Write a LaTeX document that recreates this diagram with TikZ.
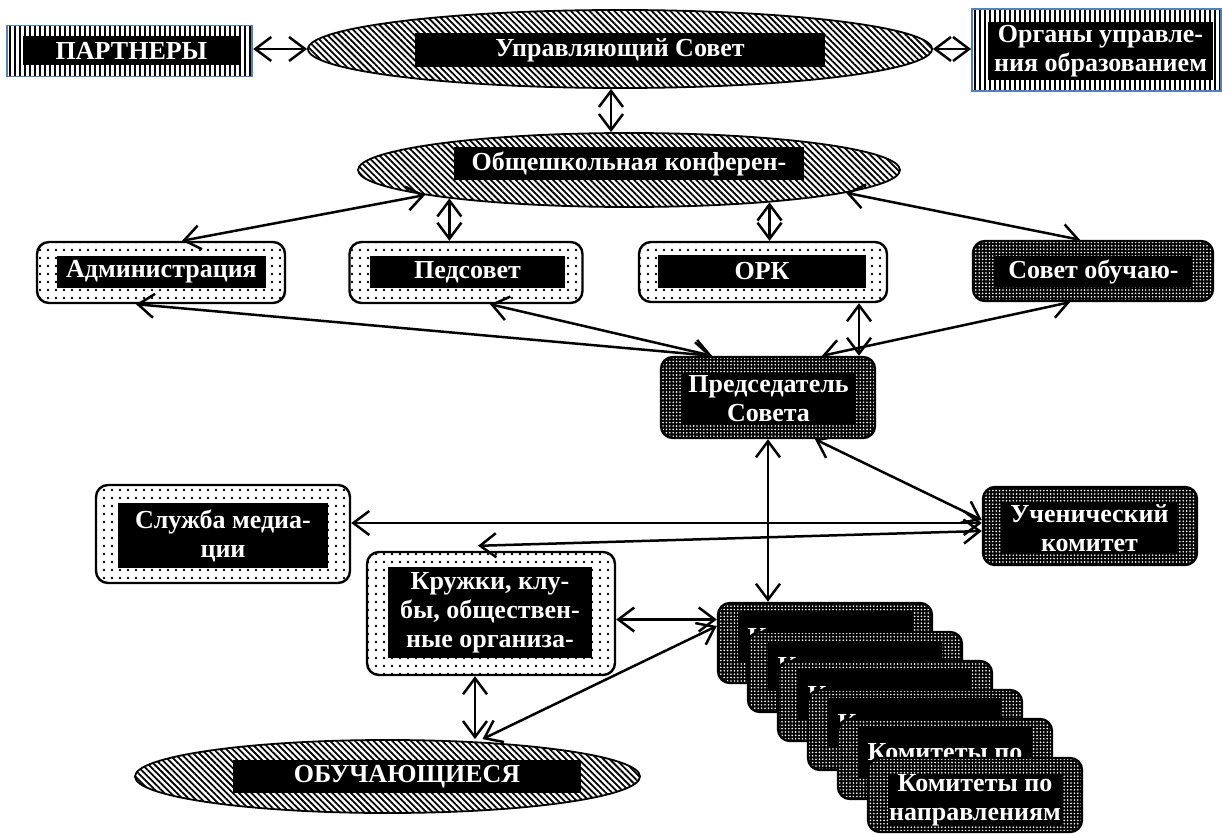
\documentclass[tikz,border=0pt]{standalone}
\usepackage{fontspec}
\setmainfont{Liberation Serif}
\usetikzlibrary{shapes.geometric}
\usetikzlibrary{patterns.meta}
\usetikzlibrary{arrows.meta}
\pgfdeclarelayer{edgelayer}
\pgfdeclarelayer{nodelayer}
\pgfsetlayers{edgelayer,nodelayer,main}
\definecolor{frameblue}{RGB}{79,129,189}
\tikzstyle{oval}=[ellipse,draw=black,line width=1.8pt,inner sep=0pt,pattern={Lines[angle=-45,distance=4.4pt,line width=1.8pt]}]
\tikzstyle{stripes}=[rectangle,draw=frameblue,line width=1.8pt,inner sep=0pt,pattern={Lines[angle=90,distance=5pt,line width=2.4pt]}]
\tikzstyle{light}=[rectangle,rounded corners=12pt,draw=black,line width=2.4pt,inner sep=0pt,pattern={Dots[distance=8pt,radius=1.3pt]}]
\tikzstyle{dark}=[rectangle,rounded corners=12pt,draw=black,line width=2.4pt,inner sep=0pt,preaction={fill=black},pattern={Dots[distance=3.4pt,radius=0.9pt]},pattern color=white]
\tikzstyle{blacktext}=[rectangle,fill=black,text=white,inner sep=0pt,align=center,font=\bfseries\fontsize{26}{29}\selectfont]
\tikzstyle{link}=[<->,>={Straight Barb[length=16pt,width=24pt]},line width=2.5pt,draw=black]

\begin{document}
\begin{tikzpicture}[x=1pt,y=-1pt]
	\useasboundingbox (0,0) rectangle (1222,834);
	\begin{pgfonlayer}{nodelayer}
		\node [style=stripes, minimum width=245pt, minimum height=51pt] (0) at (129.5, 51) {};
		\node [style=blacktext, minimum width=217pt, minimum height=29pt] (l0) at (131.5, 50.5) {ПАРТНЕРЫ};
		\node [style=oval, minimum width=624pt, minimum height=78pt] (1) at (620, 49) {};
		\node [style=blacktext, minimum width=410pt, minimum height=34pt] (l1) at (620, 50) {Управляющий Совет};
		\node [style=stripes, minimum width=249pt, minimum height=82pt] (2) at (1096.5, 50) {};
		\node [style=blacktext, minimum width=225pt, minimum height=58pt] (l2) at (1100.5, 51) {Органы управле-\\ния образованием};
		\node [style=oval, minimum width=542pt, minimum height=74pt] (3) at (629, 170) {};
		\node [style=blacktext, minimum width=350pt, minimum height=33pt] (l3) at (629, 164) {Общешкольная конферен-};
		\node [style=light, minimum width=248pt, minimum height=61pt] (4) at (161, 272.5) {};
		\node [style=blacktext, minimum width=209pt, minimum height=32pt] (l4) at (161.5, 272) {Администрация};
		\node [style=light, minimum width=233pt, minimum height=61pt] (5) at (466, 272.5) {};
		\node [style=blacktext, minimum width=195pt, minimum height=32pt] (l5) at (467.5, 272) {Педсовет};
		\node [style=light, minimum width=248pt, minimum height=60pt] (6) at (763, 272) {};
		\node [style=blacktext, minimum width=208pt, minimum height=33pt] (l6) at (762, 271.5) {ОРК};
		\node [style=dark, minimum width=240pt, minimum height=60pt] (7) at (1093, 271) {};
		\node [style=blacktext, minimum width=197pt, minimum height=31pt] (l7) at (1093.5, 271.5) {Совет обучаю-};
		\node [style=dark, minimum width=214pt, minimum height=81pt] (8) at (768, 397.5) {};
		\node [style=blacktext, minimum width=173pt, minimum height=51pt] (l8) at (768.5, 399) {Председатель\\Совета};
		\node [style=dark, minimum width=214pt, minimum height=78pt] (9) at (1090, 526) {};
		\node [style=blacktext, minimum width=175pt, minimum height=50pt] (l9) at (1089.5, 528) {Ученический\\комитет};
		\node [style=light, minimum width=254pt, minimum height=98pt] (10) at (223, 534) {};
		\node [style=blacktext, minimum width=210pt, minimum height=65pt] (l10) at (223, 535.5) {Служба медиа-\\ции};
		\node [style=light, minimum width=248pt, minimum height=123pt] (11) at (491, 613.5) {};
		\node [style=blacktext, minimum width=204pt, minimum height=91pt] (l11) at (490, 612.5) {Кружки, клу-\\бы, обществен-\\ные организа-};
		\node [style=oval, minimum width=505pt, minimum height=73pt] (12) at (387.5, 776.5) {};
		\node [style=blacktext, minimum width=348pt, minimum height=33pt] (l12) at (407, 776.5) {ОБУЧАЮЩИЕСЯ};
		\node [style=dark, minimum width=214pt, minimum height=80pt] (13) at (825, 643) {};
		\node [style=blacktext, minimum width=174pt, minimum height=50pt] (l13) at (825, 637) {Комитеты по};
		\node [style=dark, minimum width=214pt, minimum height=80pt] (14) at (855, 672) {};
		\node [style=blacktext, minimum width=174pt, minimum height=50pt] (l14) at (855, 666) {Комитеты по};
		\node [style=dark, minimum width=214pt, minimum height=80pt] (15) at (885, 701) {};
		\node [style=blacktext, minimum width=174pt, minimum height=50pt] (l15) at (885, 695) {Комитеты по};
		\node [style=dark, minimum width=214pt, minimum height=80pt] (16) at (915, 730) {};
		\node [style=blacktext, minimum width=174pt, minimum height=50pt] (l16) at (915, 723) {Комитеты по};
		\node [style=dark, minimum width=214pt, minimum height=80pt] (17) at (945, 759) {};
		\node [style=blacktext, minimum width=174pt, minimum height=50pt] (l17) at (945, 752) {Комитеты по};
		\node [style=dark, minimum width=214pt, minimum height=74pt] (18) at (975, 795) {};
		\node [style=blacktext, minimum width=174pt, minimum height=50pt] (l18) at (975, 800) {Комитеты по\\направлениям};
	\end{pgfonlayer}
	\begin{pgfonlayer}{edgelayer}
		\draw [style=link] (0.east |- 1.west) to (1.west);
		\draw [style=link] (1.east) to (1.east -| 2.west);
		\draw [style=link] ([xshift=-9pt]1.south) to ([xshift=-9pt]1.south |- 3.north);
		\draw [style=link] (3.187.3) to ([xshift=21pt]4.north);
		\draw [style=link] (3.189.8) to (3.189.8 |- 5.north);
		\draw [style=link] (3.347.1) to (3.347.1 |- 6.north);
		\draw [style=link] (3.354.3) to ([xshift=-13pt]7.north);
		\draw [style=link] ([xshift=-25pt]4.south) to ([xshift=-56pt]8.north);
		\draw [style=link] ([xshift=24pt]5.south) to ([xshift=-56pt]8.north);
		\draw [style=link] ([xshift=96pt]6.south) to ([xshift=96pt]6.south |- 8.north);
		\draw [style=link] ([xshift=-23pt]7.south) to ([xshift=54pt]8.north);
		\draw [style=link] (8.south) to (8.south |- 13.north);
		\draw [style=link] ([xshift=47pt]8.south) to ([yshift=6pt]9.west);
		\draw [style=link] ([yshift=3pt]9.west) to ([yshift=3pt]9.west -| 10.east);
		\draw [style=link] ([yshift=-5pt]9.west) to ([xshift=-13pt,yshift=5pt]11.north);
		\draw [style=link] ([yshift=-6pt]11.east) to ([yshift=-6pt]11.east -| 13.west);
		\draw [style=link] ([xshift=-16pt]11.south) to ([xshift=-16pt]11.south |- 12.north);
		\draw [style=link] ([xshift=95pt]12.north) to ([yshift=17pt]13.west);
	\end{pgfonlayer}
\end{tikzpicture}
\end{document}
